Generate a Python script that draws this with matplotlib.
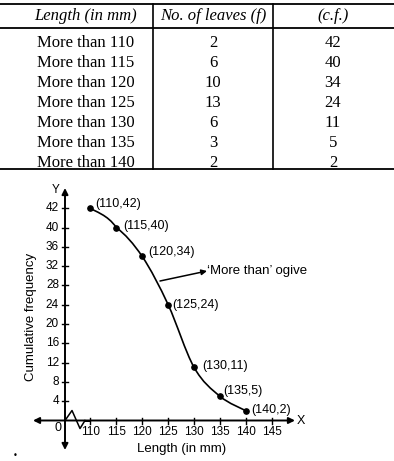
import matplotlib
matplotlib.use("Agg")
import matplotlib.pyplot as plt
from matplotlib.path import Path
from matplotlib.patches import PathPatch
import numpy as np

# table data
row_labels = ['More than 110', 'More than 115', 'More than 120', 'More than 125',
              'More than 130', 'More than 135', 'More than 140']
freq = [2, 6, 10, 13, 6, 3, 2]
cum_freq = [42, 40, 34, 24, 11, 5, 2]
headers = ['Length (in mm)', 'No. of leaves (f)', '(c.f.)']

# ogive data
lengths = [110, 115, 120, 125, 130, 135, 140]
x_ticks = [110, 115, 120, 125, 130, 135, 140, 145]
y_ticks = [4, 8, 12, 16, 20, 24, 28, 32, 36, 40, 42]

W, H = 394, 461
fig = plt.figure(figsize=(W / 100, H / 100), dpi=100)

# ---------------- table (pixel coords) ----------------
tab = fig.add_axes([0, (H - 175) / H, 1, 175 / H])
tab.set_xlim(0, W)
tab.set_ylim(175, 0)
tab.axis('off')
serif = 'Liberation Serif'
for yy in (4, 28, 169):
    tab.plot([0, W], [yy, yy], color='black', lw=1.3)
for xx in (153, 273):
    tab.plot([xx, xx], [4, 169], color='black', lw=1.2)
col_x = [86, 213, 333]
for cx, h in zip(col_x, headers):
    tab.text(cx, 16, h, ha='center', va='center', style='italic',
             family=serif, fontsize=12)
for i, (lab, f, cf) in enumerate(zip(row_labels, freq, cum_freq)):
    yy = 43 + i * 20
    tab.text(col_x[0], yy, lab, ha='center', va='center', family=serif, fontsize=12)
    tab.text(col_x[1], yy, str(f), ha='center', va='center', family=serif, fontsize=12)
    tab.text(col_x[2], yy, str(cf), ha='center', va='center', family=serif, fontsize=12)

# ---------------- ogive ----------------
# the original draws 42 one full tick step above 40
def fwd(y):
    y = np.asarray(y, dtype=float)
    return np.where(y <= 40, y, 40 + 2 * (y - 40))

def inv(t):
    t = np.asarray(t, dtype=float)
    return np.where(t <= 40, t, 40 + (t - 40) / 2)

XPX, X0 = 5.19, 90.3      # px per unit, px of x=110
YPX, Y0 = 4.825, 420.5    # px per unit, px of y=0

def px2x(p):
    return 110 + (p - X0) / XPX

def px2y(p):
    return float(inv((Y0 - p) / YPX))

top_px = 178
ax = fig.add_axes([0, 0, 1, (H - top_px) / H])
ax.set_yscale('function', functions=(fwd, inv))
ax.set_xlim(px2x(0), px2x(W))
ax.set_ylim(px2y(H), px2y(top_px))
ax.axis('off')

sans = 'Liberation Sans'
yax = px2x(65)

# axes with arrows
ax.annotate('', xy=(px2x(295), 0), xytext=(px2x(33), 0),
            arrowprops=dict(arrowstyle='<|-|>', color='black', lw=1.4,
                            mutation_scale=9, shrinkA=0, shrinkB=0))
ax.annotate('', xy=(yax, px2y(188)), xytext=(yax, px2y(450)),
            arrowprops=dict(arrowstyle='<|-|>', color='black', lw=1.4,
                            mutation_scale=9, shrinkA=0, shrinkB=0))
# break (zigzag) in the x-axis
zx = [65, 72, 80, 85, 90]
zy = [420.5, 410.5, 428.5, 420.5, 420.5]
ax.plot([px2x(p) for p in zx], [px2y(p) for p in zy], color='white', lw=3)
ax.plot([px2x(p) for p in zx[:4]], [px2y(p) for p in zy[:4]], color='black', lw=1.1)
ax.plot([px2x(85), px2x(90)], [0, 0], color='black', lw=1.4)

# ticks
for t in x_ticks:
    ax.plot([t, t], [px2y(Y0 - 3), px2y(Y0 + 3)], color='black', lw=1)
    ax.text(t, px2y(432), str(t), ha='center', va='center', family=sans, fontsize=8.5)
for t in y_ticks:
    ax.plot([px2x(62), px2x(68)], [t, t], color='black', lw=1)
    ax.text(px2x(59), t, str(t), ha='right', va='center', family=sans, fontsize=8.5)
ax.text(px2x(58), px2y(428), '0', ha='center', va='center', family=sans, fontsize=9)
ax.text(px2x(56), px2y(190), 'Y', ha='center', va='center', family=sans, fontsize=8.5)
ax.text(px2x(301), 0, 'X', ha='center', va='center', family=sans, fontsize=9)

ax.text(px2x(182), px2y(449), 'Length (in mm)', ha='center', va='center',
        family=sans, fontsize=9.5)
ax.text(px2x(31), px2y(317), 'Cumulative frequency', ha='center', va='center',
        rotation=90, family=sans, fontsize=9.5)

# smooth curve through the points (Catmull-Rom as cubic Bezier)
pts = np.column_stack([lengths, cum_freq]).astype(float)
verts = [tuple(pts[0])]
codes = [Path.MOVETO]
n = len(pts)
for i in range(n - 1):
    p0 = pts[max(i - 1, 0)]
    p1 = pts[i]
    p2 = pts[i + 1]
    p3 = pts[min(i + 2, n - 1)]
    c1 = p1 + (p2 - p0) / 6
    c2 = p2 - (p3 - p1) / 6
    verts += [tuple(c1), tuple(c2), tuple(p2)]
    codes += [Path.CURVE4] * 3
ax.add_patch(PathPatch(Path(verts, codes), fill=False, ec='black', lw=1.2))
ax.plot(lengths, cum_freq, 'o', color='black', ms=3.8)

offsets = [(5, 4), (7, 2), (6, 4), (4, 0), (8, 1), (3, 5), (5, 1)]
for x, y, off in zip(lengths, cum_freq, offsets):
    ax.annotate(f'({x},{y})', xy=(x, y), xytext=off, textcoords='offset pixels',
                ha='left', va='center', family=sans, fontsize=9)

# label arrow
ax.annotate('', xy=(px2x(207), px2y(271)), xytext=(px2x(160), px2y(281)),
            arrowprops=dict(arrowstyle='-|>', color='black', lw=1.1,
                            mutation_scale=8, shrinkA=0, shrinkB=0))
ax.text(px2x(207), px2y(271), '\u2018More than\u2019 ogive', ha='left', va='center',
        family=sans, fontsize=9.5)

fig.text(15 / W, 1 - 455 / H, '\u2022', ha='center', va='center', fontsize=6)

fig.savefig('out.png', dpi=100)
